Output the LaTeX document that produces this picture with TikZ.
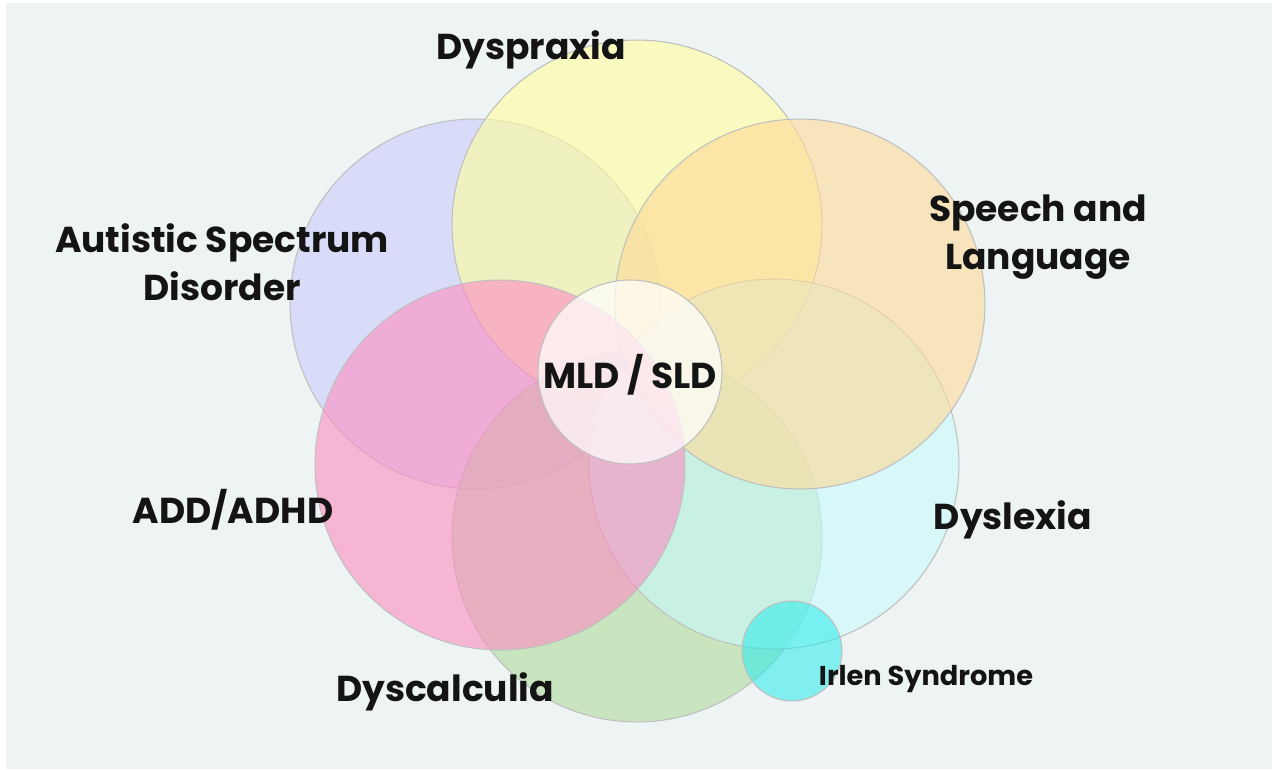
\documentclass[tikz,border=0pt]{standalone}
\usepackage{fontspec}
\setmainfont{Poppins}
\definecolor{bgc}{RGB}{238,243,244}
\definecolor{cBlue}{RGB}{203,205,252}
\definecolor{cYellow}{RGB}{255,255,157}
\definecolor{cOrange}{RGB}{255,218,151}
\definecolor{cPink}{RGB}{253,140,192}
\definecolor{cCyan}{RGB}{200,250,252}
\definecolor{cGreen}{RGB}{175,220,157}
\definecolor{cIrlen}{RGB}{40,235,235}
\definecolor{txt}{RGB}{20,20,20}
\begin{document}
\begin{tikzpicture}[x=0.02cm,y=-0.02cm,
  venn/.style={circle,inner sep=0pt,draw=black!25,line width=0.6pt,fill opacity=0.6},
  lbl/.style={font=\fontsize{20.5}{27}\selectfont\bfseries,text=txt,align=center,inner sep=0pt},
  small/.style={font=\fontsize{15.5}{18}\selectfont\bfseries,text=txt,inner sep=0pt}]
\useasboundingbox (0,0) rectangle (1272,769);
\fill[white] (0,0) rectangle (1272,769);
\fill[bgc] (6,3) rectangle (1272,769);
\node[venn,fill=cBlue,minimum size=7.4cm] (asd) at (475,304) {};
\node[venn,fill=cYellow,minimum size=7.4cm] (dyp) at (637,225) {};
\node[venn,fill=cGreen,minimum size=7.4cm] (dyc) at (637,537) {};
\node[venn,fill=cCyan,minimum size=7.4cm] (dyl) at (774,464) {};
\node[venn,fill=cOrange,minimum size=7.4cm] (sal) at (800,304) {};
\node[venn,fill=cPink,minimum size=7.4cm] (add) at (500,465) {};
\node[venn,fill=white,fill opacity=0.72,minimum size=3.68cm] (mld) at (630,372) {};
\node[venn,fill=cIrlen,fill opacity=0.55,minimum size=2cm] (irl) at (792,651) {};
\node[lbl] (tdyp) at (531,50) {Dyspraxia};
\node[lbl] (tasd) at (222,262) {Autistic Spectrum\\Disorder};
\node[lbl] (tsal) at (1038,237) {Speech and\\Language};
\node[lbl] (tmld) at (630,375) {MLD / SLD};
\node[lbl] (tadd) at (233,510) {ADD/ADHD};
\node[lbl] (tdyl) at (1013,520) {Dyslexia};
\node[lbl] (tdyc) at (445,692) {Dyscalculia};
\node[small] (tirl) at (926,679) {Irlen Syndrome};
\end{tikzpicture}
\end{document}
